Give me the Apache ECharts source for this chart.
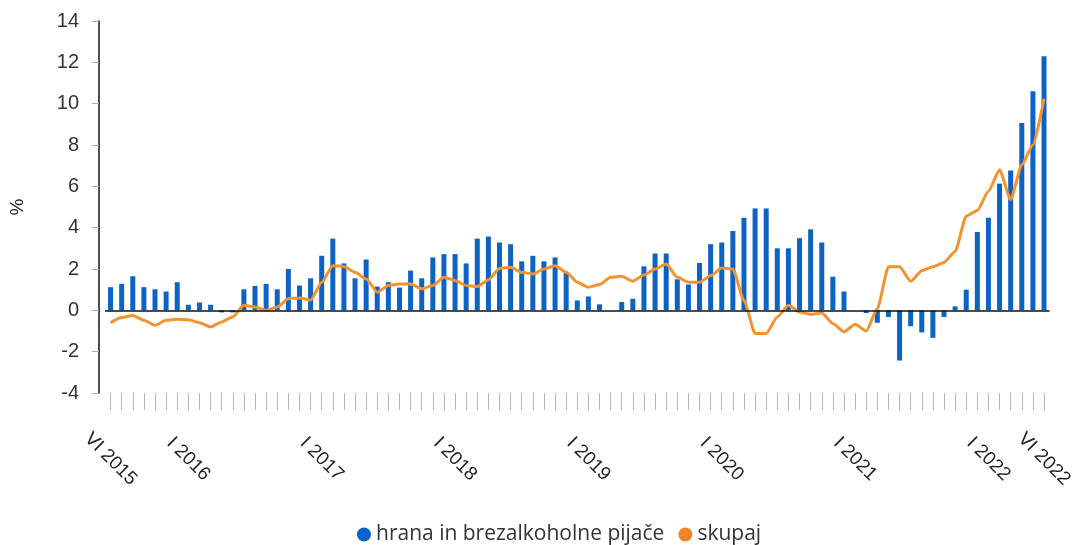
<!DOCTYPE html>
<html>
<head>
<meta charset="utf-8">
<script src="https://cdn.jsdelivr.net/npm/echarts@6/dist/echarts.min.js"></script>
<style>
  html, body { margin: 0; padding: 0; background: #fff; }
  #chart { width: 1076px; height: 545px; }
</style>
</head>
<body>
<div id="chart"></div>
<script>
  // monthly, VI 2015 .. VI 2022
  var months = ['I', 'II', 'III', 'IV', 'V', 'VI', 'VII', 'VIII', 'IX', 'X', 'XI', 'XII'];
  var startYear = 2015, startMonth = 5, monthCount = 85;
  var shownLabels = ['VI 2015', 'I 2016', 'I 2017', 'I 2018', 'I 2019', 'I 2020', 'I 2021', 'I 2022', 'VI 2022'];

  // hrana in brezalkoholne pijače (%)
  var food = [1.12, 1.28, 1.65, 1.12, 1.02, 0.91, 1.36, 0.27, 0.38, 0.27,
    -0.1, -0.1, 1.02, 1.18, 1.28, 1.02, 2.0, 1.2, 1.55, 2.64,
    3.47, 2.27, 1.55, 2.46, 1.15, 1.36, 1.1, 1.92, 1.55, 2.56,
    2.72, 2.72, 2.27, 3.47, 3.57, 3.28, 3.2, 2.37, 2.64, 2.37,
    2.56, 1.84, 0.48, 0.67, 0.29, 0, 0.4, 0.56, 2.13, 2.75,
    2.75, 1.5, 1.25, 2.29, 3.2, 3.28, 3.84, 4.48, 4.93, 4.93,
    3.0, 3.0, 3.49, 3.92, 3.28, 1.63, 0.91, 0, -0.13, -0.6,
    -0.32, -2.43, -0.77, -1.07, -1.33, -0.32, 0.19, 1.0, 3.79, 4.48,
    6.13, 6.77, 9.07, 10.6, 12.3];

  // skupaj (%)
  var total = [-0.6, -0.35, -0.25, -0.48, -0.72, -0.48, -0.43, -0.45, -0.6, -0.8,
    -0.56, -0.32, 0.24, 0.16, 0, 0.16, 0.56, 0.6, 0.5, 1.36,
    2.16, 2.12, 1.84, 1.52, 0.88, 1.2, 1.28, 1.28, 1.04, 1.2,
    1.6, 1.44, 1.2, 1.15, 1.47, 2.03, 2.08, 1.84, 1.76, 2.0,
    2.16, 1.84, 1.36, 1.12, 1.25, 1.6, 1.65, 1.41, 1.71, 2.0,
    2.24, 1.6, 1.36, 1.36, 1.68, 2.05, 2.0, 0.48, -1.12, -1.12,
    -0.32, 0.24, -0.08, -0.19, -0.13, -0.64, -1.04, -0.67, -1.0, 0.08,
    2.11, 2.11, 1.41, 1.92, 2.11, 2.32, 2.85, 4.56, 4.83, 5.76,
    6.8, 5.36, 7.04, 8.0, 10.24];

  var categories = [];
  for (var i = 0; i < monthCount; i++) {
    var m = (startMonth + i) % 12;
    var y = startYear + Math.floor((startMonth + i) / 12);
    categories.push(months[m] + ' ' + y);
  }

  var axisFont = 'Liberation Sans';

  var myChart = echarts.init(document.getElementById('chart'));
  var option = {
    animation: false,
    grid: { left: 105, right: 25, top: 21, bottom: 152 },
    legend: {
      left: 352,
      top: 519,
      icon: 'circle',
      itemWidth: 14,
      itemHeight: 14,
      itemGap: 14,
      textStyle: { fontFamily: 'Open Sans', fontSize: 21, color: '#333' },
      data: ['hrana in brezalkoholne pijače', 'skupaj']
    },
    xAxis: {
      type: 'category',
      data: categories,
      axisLine: { show: false, onZero: false },
      axisTick: {
        show: true,
        interval: 0,
        alignWithLabel: true,
        length: 17,
        lineStyle: { color: '#b5b5b5' }
      },
      axisLabel: {
        interval: function (index, value) { return shownLabels.indexOf(value) >= 0; },
        rotate: -45,
        align: 'center',
        verticalAlign: 'middle',
        margin: 66,
        fontFamily: axisFont,
        fontSize: 19,
        color: '#222'
      }
    },
    yAxis: {
      type: 'value',
      min: -4,
      max: 14,
      interval: 2,
      offset: 6,
      name: '%',
      nameLocation: 'middle',
      nameRotate: 90,
      nameGap: 72,
      nameTextStyle: { fontFamily: axisFont, fontSize: 19, color: '#222' },
      axisLine: { show: true, lineStyle: { color: '#111', width: 1.5 } },
      axisTick: { show: true, length: 7, lineStyle: { color: '#aaa' } },
      axisLabel: { fontFamily: axisFont, fontSize: 20, color: '#333', margin: 20 },
      splitLine: { show: false }
    },
    series: [
      {
        name: 'hrana in brezalkoholne pijače',
        type: 'bar',
        data: food,
        barWidth: 5,
        itemStyle: { color: '#0c63c3' },
        markLine: {
          silent: true,
          symbol: 'none',
          label: { show: false },
          lineStyle: { color: '#111', width: 1.5, type: 'solid' },
          data: [{ yAxis: 0 }]
        }
      },
      {
        name: 'skupaj',
        type: 'line',
        data: total,
        smooth: 0.2,
        smoothMonotone: 'x',
        symbol: 'none',
        lineStyle: { color: '#f3922f', width: 3 },
        itemStyle: { color: '#f3832a' }
      }
    ]
  };
  myChart.setOption(option);
</script>
</body>
</html>
